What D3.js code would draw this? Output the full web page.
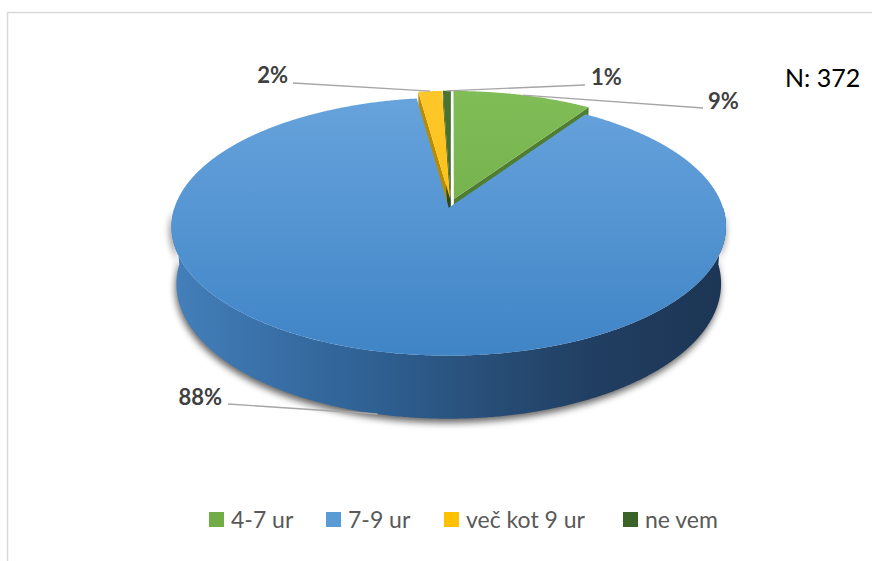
<!DOCTYPE html>
<html><head><meta charset="utf-8">
<script src="https://cdn.jsdelivr.net/npm/d3@7/dist/d3.min.js"></script>
<style>body{margin:0;background:#fff}svg{display:block}</style>
</head><body>
<svg id="chart" width="872" height="561"></svg>
<script>
// ---- data ----
const categories = ["4-7 ur", "7-9 ur", "več kot 9 ur", "ne vem"];
const counts = [35, 329, 6, 2];
const totalN = 372;
const nLabel = "N: 372";

// ---- styles ----
const topColors = [["#80bd57", "#69a540"], ["#68a4dd", "#3f84c6"], ["#ffc72a", "#f6b900"], ["#4a7432", "#3a5e25"]];
const faceColors = ["#4f7d31", "#2d5d8e", "#b98c00", "#2b4a1b"];
const legendColors = ["#70ad47", "#5b9bd5", "#ffc000", "#3a6328"];

// label layout (screen positions of texts / leader ends)
const labelLayout = [
  {tx: 708, ty: 109, anchor: "start", lx: 703, ly: 108, rim: "top"},
  {tx: 222, ty: 405, anchor: "end", lx: 228, ly: 404, rim: "bottom"},
  {tx: 288, ty: 83, anchor: "end", lx: 293, ly: 83, rim: "top"},
  {tx: 591, ty: 85, anchor: "start", lx: 585, ly: 85, rim: "top"}
];
const legendX = [209, 326, 444, 623];

// ---- projection (perspective view of a tilted disc) ----
const CX = 451, CY = 203.4, F = 1673, D = 6.13, sinP = 0.458, cosP = 0.889, T = 0.2366, E = 0.036;
function proj(u, v, z) {
  const depth = D + v * cosP - z * sinP;
  return [CX + F * u / depth, CY - F * (v * sinP + z * cosP) / depth];
}
function pt(d, a, r, z) {
  const mid = (d.startAngle + d.endAngle) / 2;
  const u = E * Math.sin(mid) + r * Math.sin(a);
  const v = E * Math.cos(mid) + r * Math.cos(a);
  return proj(u, v, z);
}
function arcPts(d, a0, a1, z) {
  const n = Math.max(2, Math.ceil((a1 - a0) / (0.4 * Math.PI / 180)));
  return d3.range(n + 1).map(i => pt(d, a0 + (a1 - a0) * i / n, 1, z));
}
const line = d3.line();

const svg = d3.select("#chart");
const defs = svg.append("defs");

// border
svg.append("rect").attr("x", 7.5).attr("y", 12.5).attr("width", 900).attr("height", 600)
  .attr("fill", "none").attr("stroke", "#d9d9d9").attr("stroke-width", 1.5);

// gradients
topColors.forEach((c, i) => {
  const g = defs.append("linearGradient").attr("id", "top" + i)
    .attr("gradientUnits", "userSpaceOnUse").attr("x1", 0).attr("y1", 90).attr("x2", 0).attr("y2", 360);
  g.append("stop").attr("offset", 0).attr("stop-color", c[0]);
  g.append("stop").attr("offset", 1).attr("stop-color", c[1]);
});
const wg = defs.append("linearGradient").attr("id", "wall")
  .attr("gradientUnits", "userSpaceOnUse").attr("x1", 175).attr("y1", 0).attr("x2", 725).attr("y2", 0);
[[0, "#447fba"], [0.15, "#3a72aa"], [0.35, "#2f6194"], [0.55, "#28507a"], [0.75, "#213f62"], [1, "#1c3554"]]
  .forEach(s => wg.append("stop").attr("offset", s[0]).attr("stop-color", s[1]));
const blur = defs.append("filter").attr("id", "shadow").attr("x", "-10%").attr("y", "-20%").attr("width", "120%").attr("height", "140%");
blur.append("feGaussianBlur").attr("stdDeviation", 3.5);

const pie = d3.pie().sort(null).value(d => d).startAngle(0).endAngle(2 * Math.PI);
const arcs = pie(counts);

const gPie = svg.append("g");

// outer (front) walls
const walls = [];
arcs.forEach((d, i) => {
  const a0 = Math.max(d.startAngle, Math.PI / 2), a1 = Math.min(d.endAngle, 3 * Math.PI / 2);
  if (a1 > a0) {
    const top = arcPts(d, a0, a1, 0), bot = arcPts(d, a0, a1, -T).reverse();
    walls.push({i, path: line(top.concat(bot)) + "Z"});
  }
});
// shadow
walls.forEach(w => gPie.append("path").attr("d", w.path).attr("fill", "#000").attr("opacity", 0.6)
  .attr("transform", "translate(-1,4)").attr("filter", "url(#shadow)"));

// radial faces
arcs.forEach((d, i) => {
  const faces = [];
  if (Math.sin(d.startAngle) < -1e-6) faces.push(d.startAngle);
  if (Math.sin(d.endAngle) > 1e-6) faces.push(d.endAngle);
  faces.forEach(a => {
    const p = [pt(d, a, 0, 0), pt(d, a, 1, 0), pt(d, a, 1, -T), pt(d, a, 0, -T)];
    gPie.append("path").attr("d", line(p) + "Z").attr("fill", faceColors[i]);
  });
});
walls.forEach(w => gPie.append("path").attr("d", w.path).attr("fill", w.i === 1 ? "url(#wall)" : faceColors[w.i]));

// top faces
arcs.forEach((d, i) => {
  const p = [pt(d, 0, 0, 0)].concat(arcPts(d, d.startAngle, d.endAngle, 0));
  gPie.append("path").attr("d", line(p) + "Z").attr("fill", "url(#top" + i + ")");
});

// labels
const gLab = svg.append("g");
arcs.forEach((d, i) => {
  const L = labelLayout[i];
  const mid = (d.startAngle + d.endAngle) / 2;
  const anchorPt = pt(d, mid, 1, L.rim === "top" ? 0 : -T);
  gLab.append("line").attr("x1", L.lx).attr("y1", L.ly).attr("x2", anchorPt[0]).attr("y2", anchorPt[1])
    .attr("stroke", "#a6a6a6").attr("stroke-width", 1.4);
  gLab.append("text").attr("x", L.tx).attr("y", L.ty).attr("text-anchor", L.anchor)
    .attr("font-family", "Lato, sans-serif").attr("font-weight", "bold").attr("font-size", 22)
    .attr("fill", "#404040").text(Math.round(d.data / totalN * 100) + "%");
});

// N label
svg.append("text").attr("x", 785).attr("y", 87).attr("font-family", "Lato, sans-serif")
  .attr("font-size", 25).attr("fill", "#000").text(nLabel);

// legend
const gLeg = svg.append("g");
categories.forEach((c, i) => {
  const g = gLeg.append("g").attr("transform", `translate(${legendX[i]},0)`);
  g.append("rect").attr("x", 0).attr("y", 512).attr("width", 15).attr("height", 15).attr("fill", legendColors[i]);
  g.append("text").attr("x", 22).attr("y", 528).attr("font-family", "Lato, sans-serif")
    .attr("font-size", 23).attr("fill", "#595959").text(c);
});
</script>
</body></html>
